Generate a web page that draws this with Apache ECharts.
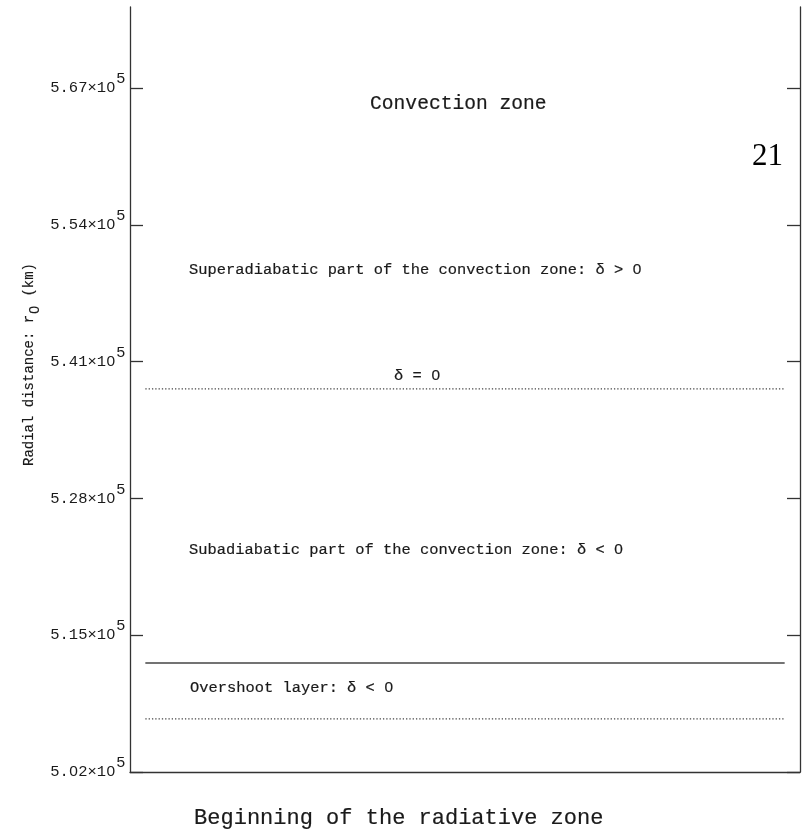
<!DOCTYPE html>
<html>
<head>
<meta charset="utf-8">
<title>Convection zone layers</title>
<script src="https://cdn.jsdelivr.net/npm/echarts@6/dist/echarts.min.js"></script>
<style>
  html, body { margin: 0; padding: 0; background: #fff; }
  #chart { width: 804px; height: 836px; }
</style>
</head>
<body>
<div id="chart"></div>
<script>
// Radial axis (km)
const yMin = 502000;
const yMax = 574700;
const yTickValues = [502000, 515000, 528000, 541000, 554000, 567000];
const yTickMantissas = ['5.02', '5.15', '5.28', '5.41', '5.54', '5.67'];

// Layer boundaries: delta = 0, base of convection zone, bottom of overshoot layer
const boundaryNames = ['delta0', 'convectionBase', 'overshootBase'];
const boundaryRadii = [538400, 512360, 507040];
const boundaryDotted = [true, false, true];
const boundarySpan = [0, 1];

const textColor = '#1a1a1a';
const lineColor = '#333';
const mono = '"Liberation Mono", "DejaVu Sans Mono", monospace';
const plainDigits = '"Liberation Sans", "DejaVu Sans", sans-serif';

const chart = echarts.init(document.getElementById('chart'), null, { renderer: 'canvas' });

const series = boundaryRadii.map((r, i) => ({
  name: boundaryNames[i],
  type: 'line',
  xAxisIndex: 0,
  yAxisIndex: 0,
  symbol: 'none',
  silent: true,
  animation: false,
  data: boundarySpan.map(x => [x, r]),
  lineStyle: boundaryDotted[i]
    ? { color: '#444', width: 1.3, type: [1.3, 2] }
    : { color: '#444', width: 1.4, type: 'solid' }
}));

// zeros are set in an undotted face
function withPlainZeros(text, key) {
  return text.split('0').map(p => p ? '{' + key + '|' + p + '}' : '').join('{z|0}');
}

function tickLabel(v) {
  const i = yTickValues.indexOf(v);
  if (i < 0) return '';
  return withPlainZeros(yTickMantissas[i] + '×10', 'm') + '{e|5}';
}

// annotation text, slightly heavier strokes
function label(text, size) {
  const base = { fontFamily: mono, fontSize: size, fill: textColor, stroke: textColor, lineWidth: 0.2 };
  return {
    text: withPlainZeros(text, 't'),
    rich: {
      t: base,
      z: Object.assign({}, base, { fontFamily: plainDigits, width: size * 0.6, align: 'center' })
    }
  };
}

const yAxisBase = {
  type: 'value',
  min: yMin,
  max: yMax,
  axisLine: { show: true, onZero: false, lineStyle: { color: lineColor, width: 1.3 } },
  axisTick: {
    show: true, inside: true, length: 13,
    customValues: yTickValues,
    lineStyle: { color: lineColor, width: 1.3 }
  },
  splitLine: { show: false }
};

const tickText = { fontFamily: mono, fontSize: 15.5, color: textColor, verticalAlign: 'bottom', lineHeight: 16 };

const option = {
  backgroundColor: '#fff',
  animation: false,
  grid: { left: 130, right: 4, top: 7, bottom: 64, containLabel: false },
  xAxis: {
    type: 'value',
    min: -0.024,
    max: 1.024,
    axisLine: { show: true, onZero: false, lineStyle: { color: lineColor, width: 1.3 } },
    axisTick: { show: false },
    axisLabel: { show: false },
    splitLine: { show: false }
  },
  yAxis: [
    Object.assign({}, yAxisBase, {
      position: 'left',
      axisLabel: {
        show: true,
        customValues: yTickValues,
        margin: 5,
        formatter: tickLabel,
        rich: {
          m: tickText,
          z: Object.assign({}, tickText, { fontFamily: plainDigits, width: 9.3, align: 'center' }),
          e: Object.assign({}, tickText, { fontFamily: plainDigits, padding: [0, 0, 9, 1] })
        }
      }
    }),
    Object.assign({}, yAxisBase, {
      position: 'right',
      axisLabel: { show: false }
    })
  ],
  series: series,
  graphic: [
    { type: 'text', left: 370, top: 94, style: label('Convection zone', 19.6) },
    {
      type: 'text', right: 21, top: 141,
      style: { text: '21', font: '31px "Liberation Serif", "DejaVu Serif", serif', fill: '#000' }
    },
    { type: 'text', left: 189, top: 262, style: label('Superadiabatic part of the convection zone: δ > 0', 15.4) },
    { type: 'text', left: 394, top: 368, style: label('δ = 0', 15.4) },
    { type: 'text', left: 189, top: 542, style: label('Subadiabatic part of the convection zone: δ < 0', 15.4) },
    { type: 'text', left: 190, top: 680, style: label('Overshoot layer: δ < 0', 15.4) },
    { type: 'text', left: 194, top: 807, style: label('Beginning of the radiative zone', 22) },
    {
      type: 'text',
      x: 22, y: 466,
      rotation: Math.PI / 2,
      style: {
        text: '{t|Radial distance: r}{s|0}{t| (km)}',
        rich: {
          t: { fontFamily: mono, fontSize: 14, fill: textColor, stroke: textColor, lineWidth: 0.15, verticalAlign: 'top', lineHeight: 18 },
          s: { fontFamily: plainDigits, fontSize: 14, fill: textColor, stroke: textColor, lineWidth: 0.15, verticalAlign: 'top', lineHeight: 18, padding: [6, 1, 0, 1] }
        }
      }
    }
  ]
};

chart.setOption(option);
</script>
</body>
</html>
